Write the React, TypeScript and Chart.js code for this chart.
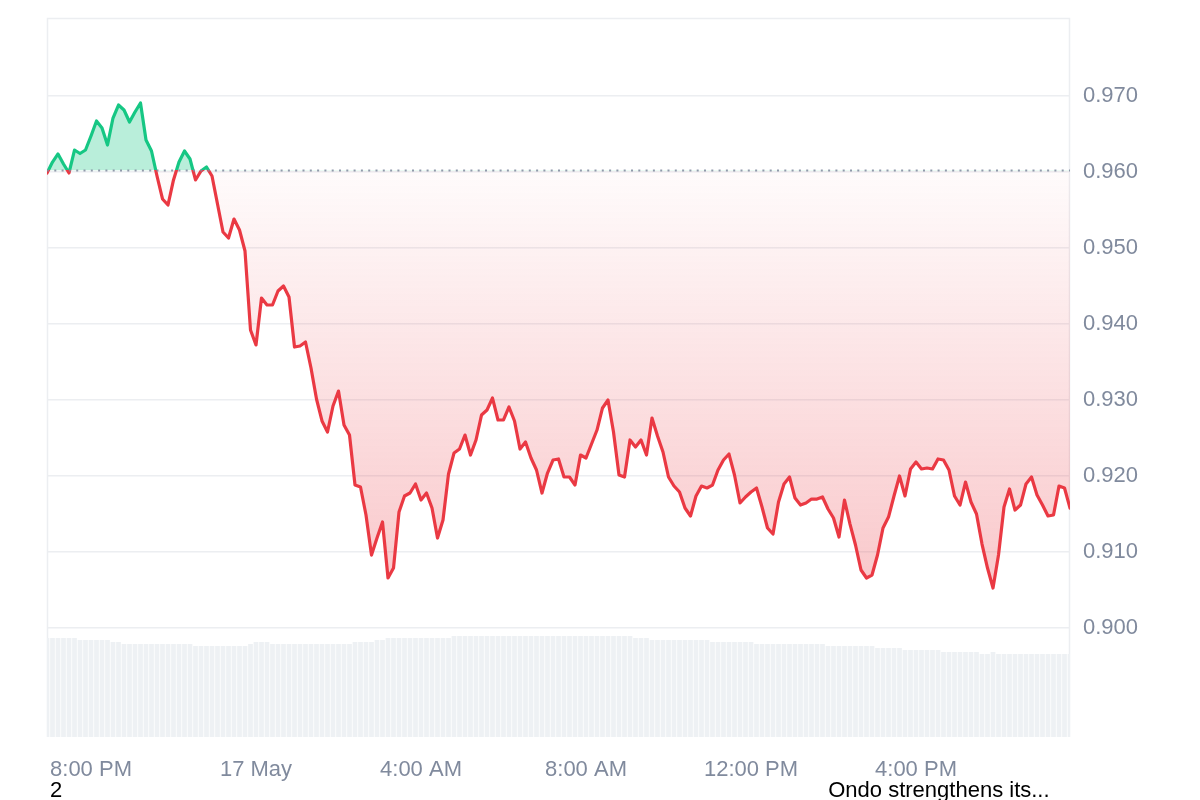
import React, { useEffect, useRef } from 'react';
import { Chart, registerables } from 'chart.js';

Chart.register(...registerables);

// ---- data ----
const intervalMinutes = 8; // minutes between samples, starting 16 May 18:56

const priceValues = [
  0.95987, 0.96131, 0.96237, 0.96105, 0.95987, 0.96289, 0.96243, 0.96289, 0.96474, 0.96671,
  0.96579, 0.96355, 0.96710, 0.96881, 0.96816, 0.96658, 0.96789, 0.96908, 0.96421, 0.96276,
  0.95947, 0.95645, 0.95566, 0.95895, 0.96131, 0.96276, 0.96171, 0.95895, 0.96013, 0.96066,
  0.95947, 0.95579, 0.95210, 0.95131, 0.95381, 0.95237, 0.94960, 0.93921, 0.93724, 0.94342,
  0.94250, 0.94250, 0.94434, 0.94500, 0.94355, 0.93697, 0.93710, 0.93763, 0.93421, 0.93013,
  0.92724, 0.92579, 0.92921, 0.93118, 0.92671, 0.92539, 0.91881, 0.91855, 0.91487, 0.90960,
  0.91184, 0.91395, 0.90658, 0.90789, 0.91526, 0.91737, 0.91776, 0.91895, 0.91684, 0.91776,
  0.91579, 0.91184, 0.91421, 0.92026, 0.92302, 0.92355, 0.92539, 0.92276, 0.92474, 0.92802,
  0.92868, 0.93026, 0.92737, 0.92737, 0.92908, 0.92724, 0.92355, 0.92447, 0.92237, 0.92079,
  0.91776, 0.92039, 0.92210, 0.92224, 0.91987, 0.91987, 0.91881, 0.92276, 0.92237, 0.92421,
  0.92605, 0.92895, 0.93000, 0.92579, 0.92013, 0.91987, 0.92474, 0.92381, 0.92474, 0.92276,
  0.92763, 0.92526, 0.92316, 0.91987, 0.91868, 0.91789, 0.91579, 0.91474, 0.91737, 0.91868,
  0.91842, 0.91881, 0.92079, 0.92210, 0.92289, 0.92013, 0.91645, 0.91724, 0.91789, 0.91842,
  0.91592, 0.91316, 0.91237, 0.91658, 0.91895, 0.91987, 0.91710, 0.91618, 0.91645, 0.91697,
  0.91697, 0.91724, 0.91566, 0.91447, 0.91197, 0.91684, 0.91368, 0.91092, 0.90763, 0.90658,
  0.90697, 0.90960, 0.91316, 0.91460, 0.91737, 0.92000, 0.91737, 0.92092, 0.92184, 0.92092,
  0.92105, 0.92092, 0.92224, 0.92210, 0.92079, 0.91737, 0.91618, 0.91921, 0.91658, 0.91500,
  0.91105, 0.90789, 0.90526, 0.90960, 0.91592, 0.91829, 0.91552, 0.91618, 0.91895, 0.91987,
  0.91750, 0.91618, 0.91474, 0.91487, 0.91868, 0.91842, 0.91579,
];

// volume in millions USD
const volumeValues = [
  9.9, 9.9, 9.9, 9.9, 9.9, 9.9, 9.7, 9.7, 9.7, 9.7,
  9.7, 9.7, 9.5, 9.5, 9.3, 9.3, 9.3, 9.3, 9.3, 9.3,
  9.3, 9.3, 9.3, 9.3, 9.3, 9.3, 9.3, 9.1, 9.1, 9.1,
  9.1, 9.1, 9.1, 9.1, 9.1, 9.1, 9.1, 9.3, 9.5, 9.5,
  9.5, 9.3, 9.3, 9.3, 9.3, 9.3, 9.3, 9.3, 9.3, 9.3,
  9.3, 9.3, 9.3, 9.3, 9.3, 9.3, 9.5, 9.5, 9.5, 9.5,
  9.7, 9.7, 9.9, 9.9, 9.9, 9.9, 9.9, 9.9, 9.9, 9.9,
  9.9, 9.9, 9.9, 9.9, 10.1, 10.1, 10.1, 10.1, 10.1, 10.1,
  10.1, 10.1, 10.1, 10.1, 10.1, 10.1, 10.1, 10.1, 10.1, 10.1,
  10.1, 10.1, 10.1, 10.1, 10.1, 10.1, 10.1, 10.1, 10.1, 10.1,
  10.1, 10.1, 10.1, 10.1, 10.1, 10.1, 10.1, 9.9, 9.9, 9.9,
  9.7, 9.7, 9.7, 9.7, 9.7, 9.7, 9.7, 9.7, 9.7, 9.7,
  9.7, 9.5, 9.5, 9.5, 9.5, 9.5, 9.5, 9.5, 9.5, 9.3,
  9.3, 9.3, 9.3, 9.3, 9.3, 9.3, 9.3, 9.3, 9.3, 9.3,
  9.3, 9.3, 9.1, 9.1, 9.1, 9.1, 9.1, 9.1, 9.1, 9.1,
  9.1, 8.9, 8.9, 8.9, 8.9, 8.9, 8.7, 8.7, 8.7, 8.7,
  8.7, 8.7, 8.7, 8.5, 8.5, 8.5, 8.5, 8.5, 8.5, 8.5,
  8.3, 8.3, 8.5, 8.3, 8.3, 8.3, 8.3, 8.3, 8.3, 8.3,
  8.3, 8.3, 8.3, 8.3, 8.3, 8.3, 8.3,
];

const baselinePrice = 0.9602;
const xTickMinutes = [64, 304, 544, 784, 1024, 1264];
const xTickLabels = ['8:00 PM', '17 May', '4:00 AM', '8:00 AM', '12:00 PM', '4:00 PM'];
const yTickValues = [0.9, 0.91, 0.92, 0.93, 0.94, 0.95, 0.96, 0.97];
const eventMinutes = [0, 1132];
const eventLabels = ['2', 'Ondo strengthens its...'];

// ---- styles ----
const GREEN = '#16c784';
const RED = '#ea3943';
const FONT = "'Liberation Sans', Arial, Helvetica, sans-serif";
const TICK_COLOR = '#808a9d';
const GRID_COLOR = '#eceef1';

function baselineInfo(chart: any) {
  const area = chart.chartArea;
  const y = chart.scales && chart.scales.y;
  if (!area || !y) return null;
  return { area, y, by: y.getPixelForValue(baselinePrice) };
}

function lineColor(ctx: any) {
  const info = baselineInfo(ctx.chart);
  if (!info) return RED;
  const { area, by } = info;
  const g = ctx.chart.ctx.createLinearGradient(0, area.top, 0, area.bottom);
  const f = Math.min(1, Math.max(0, (by - area.top) / (area.bottom - area.top)));
  g.addColorStop(0, GREEN);
  g.addColorStop(f, GREEN);
  g.addColorStop(f, RED);
  g.addColorStop(1, RED);
  return g;
}

function belowFill(ctx: any) {
  const info = baselineInfo(ctx.chart);
  if (!info) return 'rgba(234,57,67,0.1)';
  const { y, by } = info;
  const low = y.getPixelForValue(Math.min(...priceValues));
  const g = ctx.chart.ctx.createLinearGradient(0, by, 0, low);
  g.addColorStop(0, 'rgba(234,57,67,0.02)');
  g.addColorStop(1, 'rgba(234,57,67,0.28)');
  return g;
}

const decorPlugin = {
  id: 'decor',
  beforeDatasetsDraw(chart: any) {
    const { ctx, chartArea: a } = chart;
    ctx.save();
    ctx.strokeStyle = GRID_COLOR;
    ctx.lineWidth = 1.5;
    ctx.beginPath();
    ctx.moveTo(a.left + 0.5, a.bottom);
    ctx.lineTo(a.left + 0.5, a.top + 0.5);
    ctx.lineTo(a.right - 0.5, a.top + 0.5);
    ctx.lineTo(a.right - 0.5, a.bottom);
    ctx.stroke();
    ctx.restore();
  },
  afterDatasetsDraw(chart: any) {
    const { ctx, chartArea: a } = chart;
    const by = chart.scales.y.getPixelForValue(baselinePrice);
    ctx.save();
    ctx.strokeStyle = 'rgba(128,138,157,0.85)';
    ctx.lineWidth = 2;
    ctx.setLineDash([2, 5.3]);
    ctx.beginPath();
    ctx.moveTo(a.left, by);
    ctx.lineTo(a.right, by);
    ctx.stroke();
    ctx.restore();
  },
  afterDraw(chart: any) {
    const { ctx, chartArea: a } = chart;
    const xs = chart.scales.x;
    ctx.save();
    ctx.fillStyle = '#000';
    ctx.font = `22px ${FONT}`;
    ctx.textAlign = 'left';
    ctx.textBaseline = 'alphabetic';
    eventMinutes.forEach((m, i) => {
      ctx.fillText(eventLabels[i], xs.getPixelForValue(m) + 3, a.bottom + 60);
    });
    ctx.restore();
  },
};

export default function App() {
  const canvasRef = useRef<HTMLCanvasElement | null>(null);

  useEffect(() => {
    if (!canvasRef.current) return;
    const maxMinutes = (priceValues.length - 1) * intervalMinutes;
    const chart = new Chart(canvasRef.current, {
      type: 'line',
      data: {
        datasets: [
          {
            type: 'line',
            data: priceValues.map((v, i) => ({ x: i * intervalMinutes, y: v })),
            yAxisID: 'y',
            borderColor: lineColor,
            backgroundColor: belowFill,
            borderWidth: 3.2,
            borderJoinStyle: 'round',
            borderCapStyle: 'round',
            pointRadius: 0,
            tension: 0,
            fill: { value: baselinePrice, above: 'rgba(22,199,132,0.3)' } as any,
            order: 1,
          } as any,
          {
            type: 'bar',
            data: volumeValues.map((v, i) => ({ x: i * intervalMinutes, y: v })),
            yAxisID: 'yVol',
            backgroundColor: '#eef1f4',
            borderWidth: 0,
            barPercentage: 0.85,
            categoryPercentage: 1,
            order: 2,
          } as any,
        ],
      },
      options: {
        responsive: false,
        animation: false,
        devicePixelRatio: 1,
        layout: { padding: { left: 47, top: 18, right: 0, bottom: 0 } },
        plugins: { legend: { display: false }, tooltip: { enabled: false } },
        scales: {
          x: {
            type: 'linear',
            min: 0,
            max: maxMinutes,
            offset: false,
            grid: { display: false },
            border: { display: false },
            ticks: {
              autoSkip: false,
              maxRotation: 0,
              padding: 12,
              color: TICK_COLOR,
              font: { family: FONT, size: 22 },
              callback: (_v: any, i: number) => xTickLabels[i] ?? '',
            },
            afterBuildTicks: (s: any) => {
              s.ticks = xTickMinutes.map((value) => ({ value }));
            },
            afterFit: (s: any) => {
              s.height = 63;
              s.paddingLeft = 0;
              s.paddingRight = 0;
            },
          },
          y: {
            type: 'linear',
            position: 'right',
            min: 0.88566,
            max: 0.98026,
            grid: { color: GRID_COLOR, lineWidth: 1.5, drawTicks: false },
            border: { display: false },
            ticks: {
              padding: 13,
              color: TICK_COLOR,
              font: { family: FONT, size: 22 },
              callback: (v: any) => Number(v).toFixed(3),
            },
            afterBuildTicks: (s: any) => {
              s.ticks = yTickValues.map((value) => ({ value }));
            },
            afterFit: (s: any) => {
              s.width = 130;
              s.paddingTop = 0;
              s.paddingBottom = 0;
            },
          },
          yVol: {
            type: 'linear',
            display: false,
            min: 0,
            max: 71.9,
          },
        },
      } as any,
      plugins: [decorPlugin],
    });
    return () => chart.destroy();
  }, []);

  return (
    <div style={{ position: 'absolute', left: 0, top: 0, width: 1200, height: 800 }}>
      <canvas ref={canvasRef} width={1200} height={800} style={{ display: 'block' }} />
    </div>
  );
}
